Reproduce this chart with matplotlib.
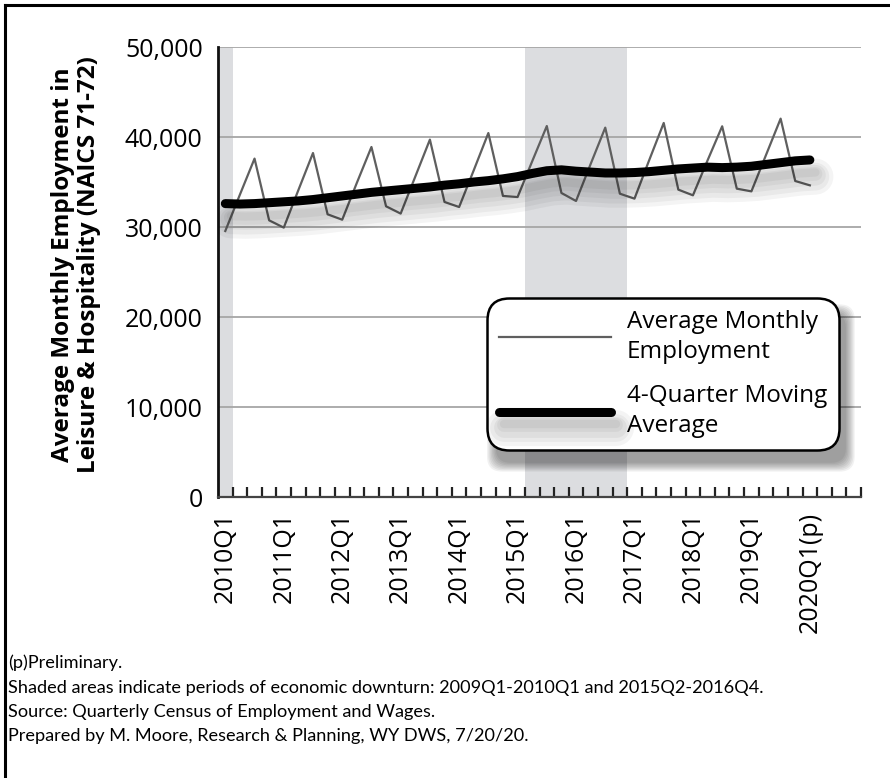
import numpy as np
import matplotlib
matplotlib.use("Agg")
import matplotlib.pyplot as plt
import matplotlib.patheffects as pe
from matplotlib.patches import FancyBboxPatch
from matplotlib.lines import Line2D
from matplotlib.ticker import FuncFormatter

# quarters 2010Q1 .. 2020Q4 (data through 2020Q1)
years = list(range(2010, 2021))
quarters = [f"{y}Q{q}" for y in years for q in range(1, 5)]
tick_labels = [f"{y}Q1" for y in range(2010, 2020)] + ["2020Q1(p)"]

monthly = [29560, 33600, 37600, 30740,
           29930, 34100, 38220, 31410,
           30810, 34900, 38890, 32300,
           31490, 35600, 39710, 32780,
           32220, 36300, 40440, 33450,
           33330, 37300, 41220, 33780,
           32890, 37000, 41040, 33700,
           33150, 37400, 41560, 34150,
           33520, 37400, 41190, 34260,
           33960, 38000, 42040, 35110,
           34630]

moving_avg = [32600, 32550, 32600, 32700,
              32800, 32900, 33050, 33250,
              33450, 33650, 33850, 34000,
              34150, 34300, 34450, 34650,
              34800, 35000, 35150, 35350,
              35600, 35950, 36250, 36350,
              36200, 36100, 36000, 36000,
              36050, 36150, 36300, 36450,
              36550, 36650, 36600, 36650,
              36750, 36950, 37150, 37350,
              37450]

# downturn shading (category index ranges)
downturns = [("2010Q1", "2010Q1"), ("2015Q2", "2016Q4")]

font = "Open Sans"
plt.rcParams['font.family'] = [font, 'DejaVu Sans']

fig = plt.figure(figsize=(8.9, 7.78), dpi=100)
ax = fig.add_axes([218/890, 1-497/778, 643/890, 450/778])

x = np.arange(len(monthly))
for a, b in downturns:
    ax.axvspan(quarters.index(a) - 0.5, quarters.index(b) + 0.5, color="#dcdde0", zorder=0, lw=0)

ax.plot(x, monthly, color="#5f5f5f", lw=1.6, zorder=3, label="Average Monthly\nEmployment")

# soft drop shadow under the moving average
shadows = [pe.SimpleLineShadow(offset=(4, -off), shadow_color="black", alpha=0.045, linewidth=w)
           for off, w in [(12, 26), (12, 20), (11, 15), (10, 10), (9, 6)]]
ax.plot(x, moving_avg, color="black", lw=6.5, solid_capstyle="round", zorder=4,
        label="4-Quarter Moving\nAverage",
        path_effects=shadows + [pe.Normal()])

ax.set_xlim(-0.5, len(quarters) - 0.5)
ax.set_ylim(0, 50000)
ax.set_yticks(range(0, 50001, 10000))
ax.yaxis.set_major_formatter(FuncFormatter(lambda v, p: f"{int(v):,}"))
ax.grid(axis="y", color="#a6a6a6", lw=1.3, zorder=1)
ax.set_axisbelow(True)

ax.set_xticks(range(0, 41, 4))
ax.set_xticklabels(tick_labels, rotation=90, fontsize=18)
ax.set_xticks(np.arange(0.5, len(quarters)), minor=True)
ax.tick_params(axis="x", which="major", length=0, pad=11)
ax.tick_params(axis="x", which="minor", direction="in", length=7, width=1.6, color="#222222")
ax.tick_params(axis="y", length=0, pad=11, labelsize=18)

for s in ["top", "right"]:
    ax.spines[s].set_visible(False)
ax.spines["left"].set_linewidth(2)
ax.spines["left"].set_color("#111111")
ax.spines["bottom"].set_linewidth(1.6)
ax.spines["bottom"].set_color("#444444")

leg = ax.legend(loc="upper left", bbox_to_anchor=(0.418, 0.442), borderaxespad=0,
                fontsize=17.5, handlelength=4.6, handletextpad=0.65, labelspacing=0.85,
                borderpad=0.5, fancybox=True, framealpha=1, edgecolor="black")
for t in leg.get_texts():
    t.set_linespacing(1.3)
leg.get_frame().set_linewidth(1.8)
leg.get_frame().set_boxstyle("round,pad=0,rounding_size=0.9")
leg.set_zorder(10)

fig.canvas.draw()
bb = leg.get_frame().get_window_extent()
for i in range(8):
    grow = 2 + i * 2.5
    sh = FancyBboxPatch((bb.x0 + 10 - grow / 2, bb.y0 - 12 - grow / 2),
                        bb.width + grow - 4, bb.height + grow - 4,
                        boxstyle="round,pad=0,rounding_size=15",
                        transform=None, facecolor="black", edgecolor="none",
                        alpha=0.055, zorder=9)
    ax.add_artist(sh)

fig.text(0.085, 0.66, "Average Monthly Employment in\nLeisure & Hospitality (NAICS 71-72)",
         rotation=90, ha="center", va="center", fontsize=17.5, fontweight="bold",
         linespacing=1.1)

notes = ["(p)Preliminary.",
         "Shaded areas indicate periods of economic downturn: 2009Q1-2010Q1 and 2015Q2-2016Q4.",
         "Source: Quarterly Census of Employment and Wages.",
         "Prepared by M. Moore, Research & Planning, WY DWS, 7/20/20."]
for i, n in enumerate(notes):
    fig.text(8/890, 1 - (663 + i * 24.5)/778, n, fontsize=13.1, family=["Lato", "DejaVu Sans"],
             ha="left", va="center")

# figure border (top and left edges visible)
fig.add_artist(Line2D([5/890, 5/890], [0, 1 - 5/778], color="black", lw=2.2, transform=fig.transFigure))
fig.add_artist(Line2D([5/890, 1], [1 - 5/778, 1 - 5/778], color="black", lw=2.2, transform=fig.transFigure))

fig.savefig("out.png", dpi=100)
